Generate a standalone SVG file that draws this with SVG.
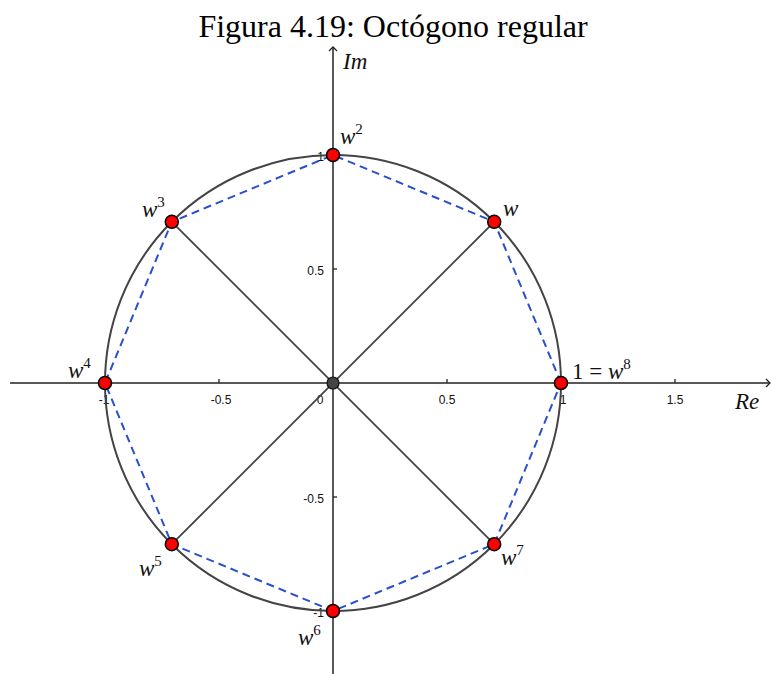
<svg xmlns="http://www.w3.org/2000/svg" width="772" height="674" viewBox="0 0 772 674">
<style>
.ax{stroke:#222;stroke-width:1.5;fill:none}
.tk{font-family:"Liberation Sans",Arial,sans-serif;font-size:12px;fill:#111}
.m{font-family:"Liberation Serif","Times New Roman",serif;font-style:italic;font-size:23px;fill:#111}
.n{font-family:"Liberation Serif","Times New Roman",serif;font-size:23px;fill:#111}
.sup{font-size:15px;font-style:normal}
.pt{fill:#ff0000;stroke:#000;stroke-width:1.5}
.sp{stroke:#444;stroke-width:1.8}
.poly{stroke:#2a4fcc;stroke-width:2;stroke-dasharray:8 5;fill:none}
</style>
<defs>
<marker id="arr" markerWidth="10" markerHeight="10" refX="5" refY="5" orient="auto" markerUnits="userSpaceOnUse">
<path d="M1,1 L5,5 L1,9" fill="none" stroke="#222" stroke-width="1.3"/>
</marker>
</defs>
<rect width="772" height="674" fill="#fff"/>
<text x="393" y="37" text-anchor="middle" font-family="Liberation Serif,'Times New Roman',serif" font-size="32" fill="#000">Figura 4.19: Octógono regular</text>
<g id="axes">
<line class="ax" x1="10" y1="383" x2="770" y2="383" marker-end="url(#arr)"/>
<line class="ax" x1="333" y1="674" x2="333" y2="47" marker-end="url(#arr)"/>
<g stroke="#222" stroke-width="1.3">
<line x1="219" y1="379" x2="219" y2="383"/>
<line x1="447" y1="379" x2="447" y2="383"/>
<line x1="675" y1="379" x2="675" y2="383"/>
<line x1="333" y1="269" x2="337" y2="269"/>
<line x1="333" y1="497" x2="337" y2="497"/>
</g>
<g class="tk">
<text x="104" y="404" text-anchor="middle">-1</text>
<text x="221" y="404" text-anchor="middle">-0.5</text>
<text x="320" y="404" text-anchor="middle">0</text>
<text x="447" y="404" text-anchor="middle">0.5</text>
<text x="563" y="404" text-anchor="middle">1</text>
<text x="675" y="404" text-anchor="middle">1.5</text>
<text x="324" y="161" text-anchor="end">1</text>
<text x="324" y="275" text-anchor="end">0.5</text>
<text x="324" y="503" text-anchor="end">-0.5</text>
<text x="324" y="617" text-anchor="end">-1</text>
</g>
<text class="m" x="343" y="69">Im</text>
<text class="m" x="735" y="409">Re</text>
</g>
<g id="circle"><circle cx="333" cy="383" r="228" fill="none" stroke="#444" stroke-width="2"/></g>
<g id="connectors">
<line class="sp" x1="171.8" y1="221.8" x2="494.2" y2="544.2"/>
<line class="sp" x1="494.2" y1="221.8" x2="171.8" y2="544.2"/>
<polygon class="poly" points="561,383 494.2,221.8 333,155 171.8,221.8 105,383 171.8,544.2 333,611 494.2,544.2"/>
</g>
<g id="origin"><circle cx="333" cy="383" r="6" fill="#444" stroke="#111" stroke-width="1.2"/></g>
<g id="w8"><circle class="pt" cx="561" cy="383" r="6.5"/><text class="n" x="572" y="379">1 = <tspan font-style="italic">w</tspan><tspan class="sup" dy="-10">8</tspan></text></g>
<g id="w1"><circle class="pt" cx="494.2" cy="221.8" r="6.5"/><text class="m" x="503" y="216">w</text></g>
<g id="w2"><circle class="pt" cx="333" cy="155" r="6.5"/><text class="m" x="340" y="144">w<tspan class="sup" dy="-10">2</tspan></text></g>
<g id="w3"><circle class="pt" cx="171.8" cy="221.8" r="6.5"/><text class="m" x="142" y="217">w<tspan class="sup" dy="-10">3</tspan></text></g>
<g id="w4"><circle class="pt" cx="105" cy="383" r="6.5"/><text class="m" x="68" y="378">w<tspan class="sup" dy="-10">4</tspan></text></g>
<g id="w5"><circle class="pt" cx="171.8" cy="544.2" r="6.5"/><text class="m" x="139" y="576">w<tspan class="sup" dy="-10">5</tspan></text></g>
<g id="w6"><circle class="pt" cx="333" cy="611" r="6.5"/><text class="m" x="298" y="645">w<tspan class="sup" dy="-10">6</tspan></text></g>
<g id="w7"><circle class="pt" cx="494.2" cy="544.2" r="6.5"/><text class="m" x="501" y="565">w<tspan class="sup" dy="-10">7</tspan></text></g>
</svg>
